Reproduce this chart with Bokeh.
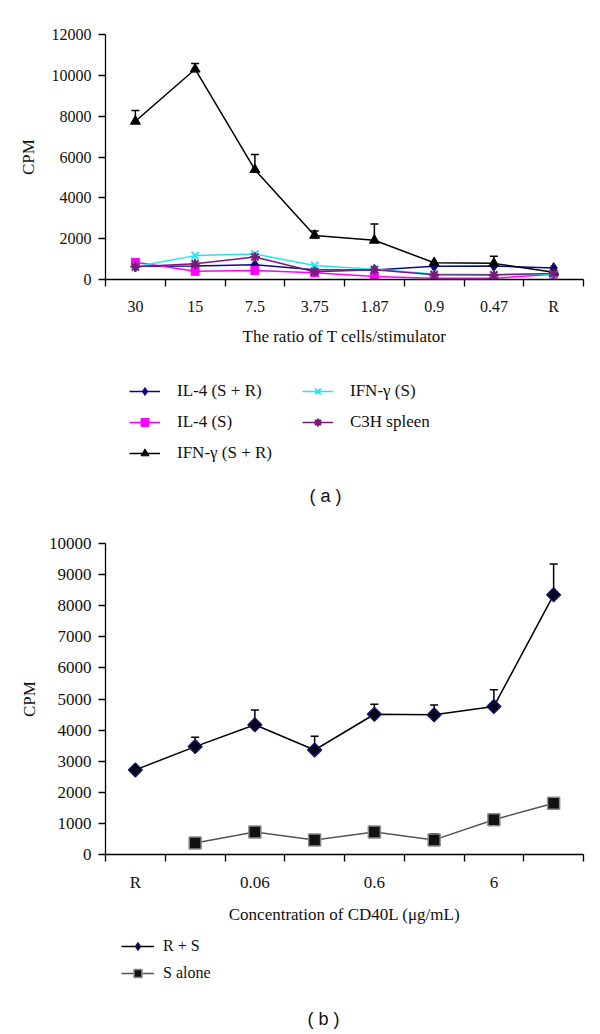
import numpy as np
from bokeh.plotting import figure
from bokeh.models import (ColumnDataSource, FixedTicker, Range1d, Legend, LegendItem,
                          Whisker, TeeHead, Label)
from bokeh.layouts import column
from bokeh.embed import file_html
from bokeh.resources import INLINE

# ---------------- data: panel (a) ----------------
ratio_labels = ["30", "15", "7.5", "3.75", "1.87", "0.9", "0.47", "R"]
il4_sr = [650, 660, 720, 480, 470, 650, 660, 560]
il4_s = [840, 400, 440, 330, 150, 60, 60, 260]
ifn_sr = [7750, 10300, 5380, 2160, 1920, 820, 790, 360]
ifn_sr_err = [530, 280, 740, 210, 800, 0, 350, 0]
ifn_s = [620, 1170, 1250, 690, 500, 270, 250, 260]
c3h = [620, 770, 1100, 380, 480, 230, 220, 300]
yticks_a = [0, 2000, 4000, 6000, 8000, 10000, 12000]

# ---------------- data: panel (b) ----------------
conc_labels = ["R", "", "0.06", "", "0.6", "", "6", ""]
rs = [2720, 3470, 4170, 3360, 4510, 4490, 4760, 8350]
rs_err = [0, 300, 480, 440, 320, 320, 540, 990]
s_alone = [np.nan, 370, 720, 470, 720, 470, 1120, 1650]
s_alone_err = [0, 0, 0, 0, 0, 200, 0, 0]
yticks_b = [0, 1000, 2000, 3000, 4000, 5000, 6000, 7000, 8000, 9000, 10000]

SERIF = "Liberation Serif"
SANS = "Liberation Sans"
W = 600
LEFT = 105
RIGHT = 17


def base_fig(h, ymax, top, bottom):
    p = figure(width=W, height=h, x_range=Range1d(0, 8), y_range=Range1d(0, ymax),
               output_backend="svg", toolbar_location=None,
               min_border_left=LEFT, min_border_right=RIGHT, min_border_top=top,
               min_border_bottom=bottom)
    p.outline_line_color = None
    p.xgrid.grid_line_color = None
    p.ygrid.grid_line_color = None
    p.background_fill_color = "white"
    return p


def legend_fig(h):
    # a strip under a chart that only holds its legend and caption; the data
    # lie outside its y range so that only the legend swatches are seen
    p = figure(width=W, height=h, x_range=Range1d(0, 8), y_range=Range1d(-2, -1),
               x_axis_type=None, y_axis_type=None, output_backend="svg",
               toolbar_location=None, min_border_left=LEFT, min_border_right=RIGHT,
               min_border_top=0, min_border_bottom=0)
    p.outline_line_color = None
    p.grid.grid_line_color = None
    return p


def style_axes(p, labels, yticks, tick_fs, title_fs, xstd, xlab_std, ystd, ylab_std):
    n = len(labels)
    xs = [i + 0.5 for i in range(n)]
    p.xaxis.ticker = FixedTicker(ticks=xs, minor_ticks=list(range(n + 1)))
    p.xaxis.major_label_overrides = {x: lab for x, lab in zip(xs, labels)}
    p.xaxis.major_tick_out = 0
    p.xaxis.major_tick_in = 0
    p.xaxis.minor_tick_out = 7
    p.xaxis.minor_tick_in = 0
    p.xaxis.minor_tick_line_color = "black"
    p.xaxis.minor_tick_line_width = 1.3
    p.xaxis.major_label_standoff = xstd
    p.xaxis.axis_label_standoff = xlab_std

    p.yaxis.ticker = FixedTicker(ticks=yticks)
    p.yaxis.major_tick_out = 7
    p.yaxis.major_tick_in = 0
    p.yaxis.minor_tick_line_color = None
    p.yaxis.major_label_standoff = ystd
    p.yaxis.axis_label_standoff = ylab_std

    for ax in (p.xaxis, p.yaxis):
        ax.axis_line_color = "black"
        ax.axis_line_width = 1.3
        ax.major_tick_line_color = "black"
        ax.major_tick_line_width = 1.3
        ax.major_label_text_font = SERIF
        ax.major_label_text_font_size = tick_fs
        ax.major_label_text_color = "#111111"
        ax.axis_label_text_font = SERIF
        ax.axis_label_text_font_size = title_fs
        ax.axis_label_text_font_style = "normal"
        ax.axis_label_text_color = "#111111"
    return xs


def make_legend(items, loc, spacing, gw, std, fs):
    return Legend(items=items, location=loc, orientation="vertical", padding=0, margin=0,
                  spacing=spacing, glyph_width=gw, glyph_height=20, label_height=20,
                  label_standoff=std, label_text_font=SERIF, label_text_font_size=fs,
                  label_text_color="#111111", border_line_color=None,
                  background_fill_alpha=0)


def caption(p, x, y, text):
    p.add_layout(Label(x=x, y=y, x_units="screen", y_units="screen", text=text,
                       text_font=SANS, text_font_size="18px", text_align="center",
                       text_baseline="middle", text_color="#111111"))


def add_whiskers(p, xs, vals, errs, level="annotation"):
    ex = [x for x, e in zip(xs, errs) if e > 0]
    eb = [v for v, e in zip(vals, errs) if e > 0]
    eu = [v + e for v, e in zip(vals, errs) if e > 0]
    esrc = ColumnDataSource(dict(x=ex, base=eb, upper=eu))
    p.add_layout(Whisker(source=esrc, base="x", lower="base", upper="upper",
                         dimension="height", line_color="black", line_width=1.5,
                         upper_head=TeeHead(size=8, line_color="black", line_width=1.5),
                         lower_head=None, level=level))


# ================= panel (a) =================
pa = base_fig(353, 12000, 34, 74)
xa = style_axes(pa, ratio_labels, yticks_a, "16px", "17px", 11, 9, 7, 11)
pa.xaxis.axis_label = "The ratio of T cells/stimulator"
pa.yaxis.axis_label = "CPM"

series_a = [
    ("IL-4 (S + R)", il4_sr, "#0b0b80", "diamond", 11, 1),
    ("IL-4 (S)", il4_s, "#ff00ff", "square", 8, 1),
    ("IFN-γ (S + R)", ifn_sr, "#000000", "triangle", 10, 1),
    ("IFN-γ (S)", ifn_s, "#22e6ee", "x", 10, 2),
    ("C3H spleen", c3h, "#7a1a7a", "asterisk", 10, 2),
]

la = legend_fig(155)
items_a = []
for name, vals, col, mk, sz, lw in series_a:
    src = ColumnDataSource(dict(x=xa, y=vals))
    line_kw = dict(line_color=col, line_width=1.5)
    mark_kw = dict(marker=mk, size=sz, fill_color=col, line_color=col, line_width=lw)
    pa.line("x", "y", source=src, **line_kw)
    pa.scatter("x", "y", source=src, **mark_kw)
    lr = la.line("x", "y", source=src, **line_kw)
    sr = la.scatter("x", "y", source=src, **mark_kw)
    items_a.append(LegendItem(label=name, renderers=[lr, sr]))

add_whiskers(pa, xa, ifn_sr, ifn_sr_err)

la.add_layout(make_legend(items_a[:3], (24, 45), 11, 31, 17, "17px"))
la.add_layout(make_legend(items_a[3:], (197, 76), 11, 31, 17, "17px"))
caption(la, 220, 13, "( a )")

# ================= panel (b) =================
pb = base_fig(425, 10000, 35, 79)
xb = style_axes(pb, conc_labels, yticks_b, "17px", "17px", 11, 10, 7, 7)
pb.xaxis.axis_label = "Concentration of CD40L (μg/mL)"
pb.yaxis.axis_label = "CPM"

sx = [x for x, v in zip(xb, s_alone) if not np.isnan(v)]
sy = [v for v in s_alone if not np.isnan(v)]
add_whiskers(pb, xb, rs, rs_err, "underlay")
add_whiskers(pb, xb, s_alone, s_alone_err, "underlay")

rs_line = dict(line_color="black", line_width=1.5)
rs_style = dict(marker="square", angle=np.pi / 4, size=10, fill_color="#06061e",
                line_color="#1a1a70", line_width=1.2)
rs_key = dict(marker="diamond", size=17, fill_color="#06061e",
              line_color="#1a1a70", line_width=1.2)
sa_line = dict(line_color="#555555", line_width=1.5)
sa_style = dict(marker="square", size=12, fill_color="#111111", line_color="#8a8a8a",
                line_width=1.5)

src_rs = ColumnDataSource(dict(x=xb, y=rs))
src_s = ColumnDataSource(dict(x=sx, y=sy))
pb.line("x", "y", source=src_rs, **rs_line)
pb.scatter("x", "y", source=src_rs, **rs_style)
pb.line("x", "y", source=src_s, **sa_line)
pb.scatter("x", "y", source=src_s, **sa_style)

lb = legend_fig(101)
l1 = lb.line("x", "y", source=src_rs, **rs_line)
m1 = lb.scatter("x", "y", source=src_rs, **rs_key)
l2 = lb.line("x", "y", source=src_s, **sa_line)
m2 = lb.scatter("x", "y", source=src_s, **sa_style)
items_b = [LegendItem(label="R + S", renderers=[l1, m1]),
           LegendItem(label="S alone", renderers=[l2, m2])]
lb.add_layout(make_legend(items_b, (16, 51), 7, 33, 9, "16px"))
caption(lb, 218, 16, "( b )")

layout = column(pa, la, pb, lb)
open("out.html", "w").write(file_html(layout, INLINE))
